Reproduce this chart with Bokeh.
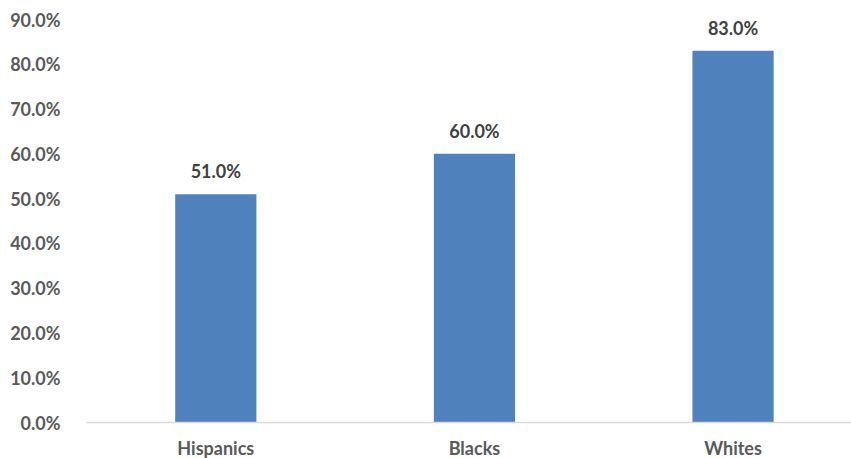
from bokeh.plotting import figure
from bokeh.models import ColumnDataSource, FixedTicker, PrintfTickFormatter, LabelSet, Range1d
from bokeh.core.properties import value
from bokeh.embed import file_html
from bokeh.resources import INLINE

categories = ["Hispanics", "Blacks", "Whites"]
values = [51.0, 60.0, 83.0]
y_ticks = [0, 10, 20, 30, 40, 50, 60, 70, 80, 90]

xs = list(range(len(categories)))
src = ColumnDataSource(dict(x=xs, top=values, label=[f"{v:.1f}%" for v in values]))

FONT = "Lato"
p = figure(frame_width=765, frame_height=403, output_backend="svg", toolbar_location=None,
           x_range=Range1d(-0.5, 2.458), y_range=Range1d(0, 90),
           min_border_left=86, min_border_right=0, min_border_top=19, min_border_bottom=30)
p.outline_line_color = None
p.xgrid.visible = False
p.ygrid.visible = False
p.background_fill_color = "white"
p.border_fill_color = "white"

p.vbar(x="x", top="top", width=0.314, source=src, color="#4f81bd", line_color=None)

labels = LabelSet(x="x", y="top", text="label", source=src, text_align="center",
                  text_baseline="alphabetic", y_offset=16, text_font=value(FONT),
                  text_font_style="bold", text_font_size="18px", text_color="#404040")
p.add_layout(labels)

p.xaxis.ticker = FixedTicker(ticks=xs)
p.xaxis.major_label_overrides = {i: c for i, c in enumerate(categories)}
p.xaxis.axis_line_color = "#d9d9d9"
p.xaxis.axis_line_width = 1.5
p.xaxis.major_tick_line_color = None
p.xaxis.minor_tick_line_color = None
p.xaxis.major_label_standoff = 8
p.xaxis.major_label_text_font = FONT
p.xaxis.major_label_text_font_style = "bold"
p.xaxis.major_label_text_font_size = "18px"
p.xaxis.major_label_text_color = "#595959"

p.yaxis.ticker = FixedTicker(ticks=y_ticks)
p.yaxis.formatter = PrintfTickFormatter(format="%.1f%%")
p.yaxis.axis_line_color = None
p.yaxis.major_tick_line_color = None
p.yaxis.minor_tick_line_color = None
p.yaxis.major_label_standoff = 20
p.yaxis.major_label_text_font = FONT
p.yaxis.major_label_text_font_style = "bold"
p.yaxis.major_label_text_font_size = "18px"
p.yaxis.major_label_text_color = "#595959"

open("out.html", "w").write(file_html(p, INLINE))
